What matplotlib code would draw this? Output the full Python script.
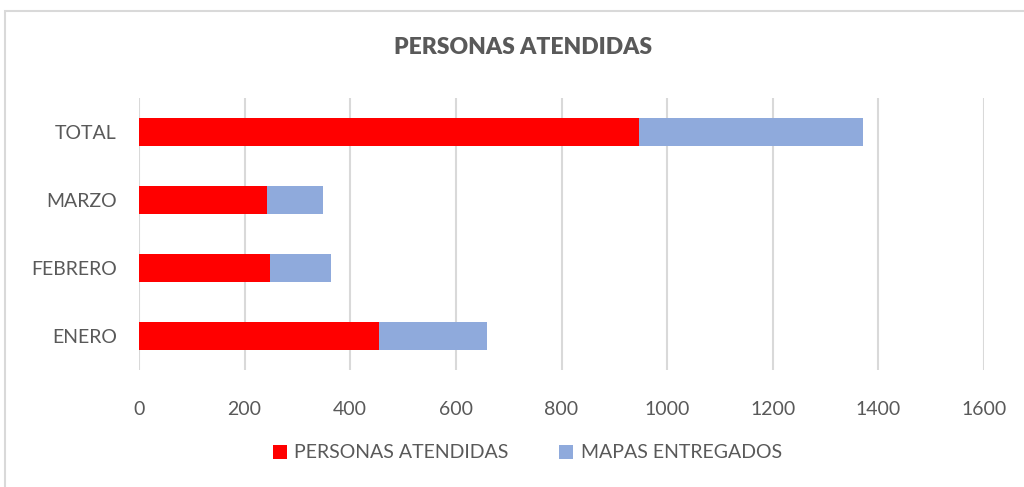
import matplotlib.pyplot as plt
from matplotlib.patches import Rectangle
import numpy as np

categories = ["ENERO", "FEBRERO", "MARZO", "TOTAL"]
personas = [455, 248, 243, 946]
mapas = [203, 116, 106, 425]
xticks = [0, 200, 400, 600, 800, 1000, 1200, 1400, 1600]

plt.rcParams['font.family'] = ['Lato', 'DejaVu Sans']
txt = '#595959'

fig = plt.figure(figsize=(10.24, 4.87), dpi=100)
ax = fig.add_axes([139 / 1024, 1 - 370 / 487, 845 / 1024, 272 / 487])

# chart border
fig.patches.append(Rectangle((5 / 1024, -0.05), 1.1, 1 - 11 / 487 + 0.05,
                             transform=fig.transFigure, fill=False,
                             edgecolor='#d9d9d9', linewidth=1.5))

y = np.arange(len(categories))
ax.barh(y, personas, height=0.4, color='#ff0000', label='PERSONAS ATENDIDAS', zorder=3)
ax.barh(y, mapas, left=personas, height=0.4, color='#8faadc', label='MAPAS ENTREGADOS', zorder=3)

ax.set_xlim(0, 1600)
ax.set_ylim(-0.5, len(categories) - 0.5)
ax.set_xticks(xticks)
ax.set_xticklabels([str(v) for v in xticks])
ax.set_yticks(y)
ax.set_yticklabels(categories)
ax.tick_params(axis='both', length=0, labelsize=14, labelcolor=txt)
ax.tick_params(axis='x', pad=22)
ax.tick_params(axis='y', pad=16)
ax.grid(axis='x', color='#d9d9d9', linewidth=1.5, zorder=0)
for s in ax.spines.values():
    s.set_visible(False)

fig.text(523 / 1024, 1 - 48 / 487, "PERSONAS ATENDIDAS", ha='center', va='center',
         fontsize=16.5, fontweight='heavy', color=txt)

fig.legend(loc='center', bbox_to_anchor=(0.515, 1 - 453 / 487), ncol=2, frameon=False,
           fontsize=14, labelcolor=txt, handlelength=0.7, handleheight=0.7,
           handletextpad=0.4, columnspacing=2.6)

fig.savefig('out.png', dpi=100)
